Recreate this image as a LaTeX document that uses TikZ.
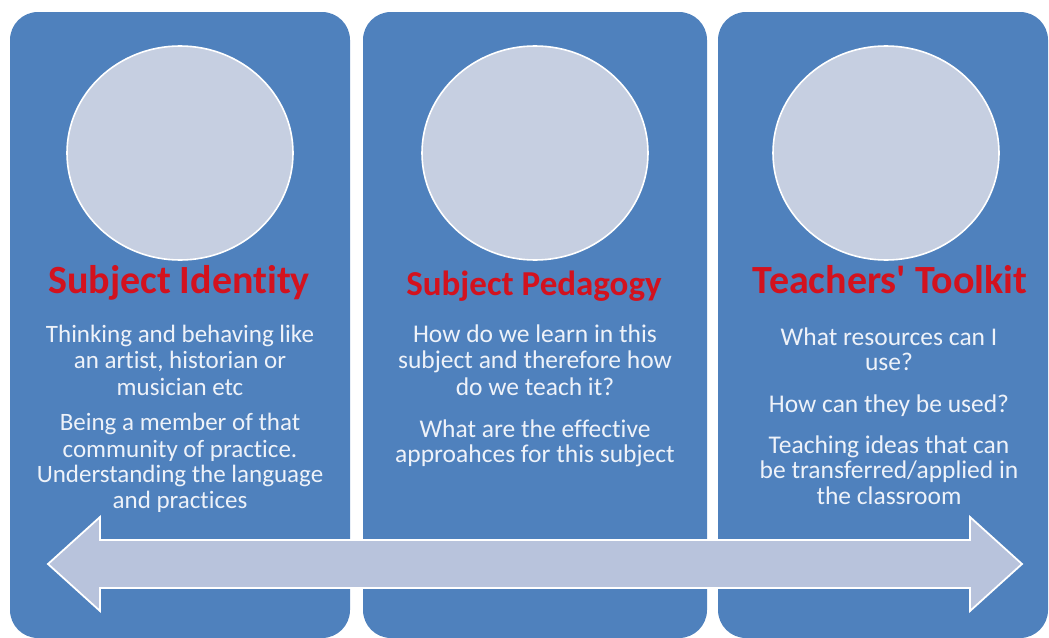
\documentclass[tikz,border=0pt]{standalone}
\usepackage{fontspec}
\setmainfont{Carlito}[Ligatures={TeXOff,NoCommon}]
\usetikzlibrary{shapes.geometric}
\definecolor{panelblue}{HTML}{4F81BD}
\definecolor{circfill}{HTML}{C6CFE1}
\definecolor{arrowfill}{HTML}{B8C3DC}
\definecolor{titlered}{HTML}{D3121E}
\definecolor{bodywhite}{HTML}{EEF2F9}
\tikzset{
  panel/.style={draw=none, fill=panelblue, rounded corners=28pt, inner sep=0pt},
  disc/.style={ellipse, draw=white, line width=1.6pt, fill=circfill, inner sep=0pt,
               minimum width=226pt, minimum height=214pt},
  titletext/.style={anchor=base, inner sep=0pt, text=titlered,
               font=\fontsize{40}{40}\selectfont\bfseries},
  bodyline/.style={anchor=base, inner sep=0pt, text=bodywhite,
               font=\fontsize{25.5}{26}\selectfont},
  bigarrow/.style={draw=white, line width=1.8pt, fill=arrowfill, line join=miter}
}
\begin{document}
\begin{tikzpicture}[x=1pt, y=-1pt]
\useasboundingbox (0,0) rectangle (1049,637);
% panels
\node[panel, minimum width=340pt, minimum height=626pt] (p1) at (180,325) {};
\node[panel, minimum width=344pt, minimum height=626pt] (p2) at (535,325) {};
\node[panel, minimum width=330pt, minimum height=626pt] (p3) at (883,325) {};
% circles
\node[disc] (c1) at (180,153) {};
\node[disc] (c2) at (535,153) {};
\node[disc] (c3) at (886,153) {};
% titles
\node[titletext] (t1) at (179,293) {Subject Identity};
\node[titletext, font=\fontsize{35}{35}\selectfont\bfseries] (t2) at (534,295) {Subject Pedagogy};
\node[titletext] (t3) at (890,293) {Teachers' Toolkit};
% panel 1 text
\node[bodyline, font=\fontsize{25}{26}\selectfont] (a1) at (180,342) {Thinking and behaving like};
\node[bodyline, font=\fontsize{25}{26}\selectfont] (a2) at (180,368) {an artist, historian or};
\node[bodyline, font=\fontsize{25}{26}\selectfont] (a3) at (180,395) {musician etc};
\node[bodyline, font=\fontsize{25}{26}\selectfont] (a4) at (180,430) {Being a member of that};
\node[bodyline, font=\fontsize{25}{26}\selectfont] (a5) at (180,457) {community of practice.};
\node[bodyline, font=\fontsize{25}{26}\selectfont] (a6) at (180,482) {Understanding the language};
\node[bodyline, font=\fontsize{25}{26}\selectfont] (a7) at (180,508) {and practices};
% panel 2 text
\node[bodyline] (b1) at (535,342) {How do we learn in this};
\node[bodyline] (b2) at (535,368) {subject and therefore how};
\node[bodyline] (b3) at (535,395) {do we teach it?};
\node[bodyline] (b4) at (535,437) {What are the effective};
\node[bodyline] (b5) at (535,462) {approahces for this subject};
% panel 3 text
\node[bodyline] (d1) at (889,345) {What resources can I};
\node[bodyline] (d2) at (889,370) {use?};
\node[bodyline] (d3) at (889,412) {How can they be used?};
\node[bodyline] (d4) at (889,453) {Teaching ideas that can};
\node[bodyline] (d5) at (889,478) {be transferred/applied in};
\node[bodyline] (d6) at (889,504) {the classroom};
% double-headed arrow
\draw[bigarrow] (48,564) -- (100,517) -- (100,540) -- (970,540) -- (970,517)
  -- (1022,564) -- (970,611) -- (970,588) -- (100,588) -- (100,611) -- cycle;
\end{tikzpicture}
\end{document}
